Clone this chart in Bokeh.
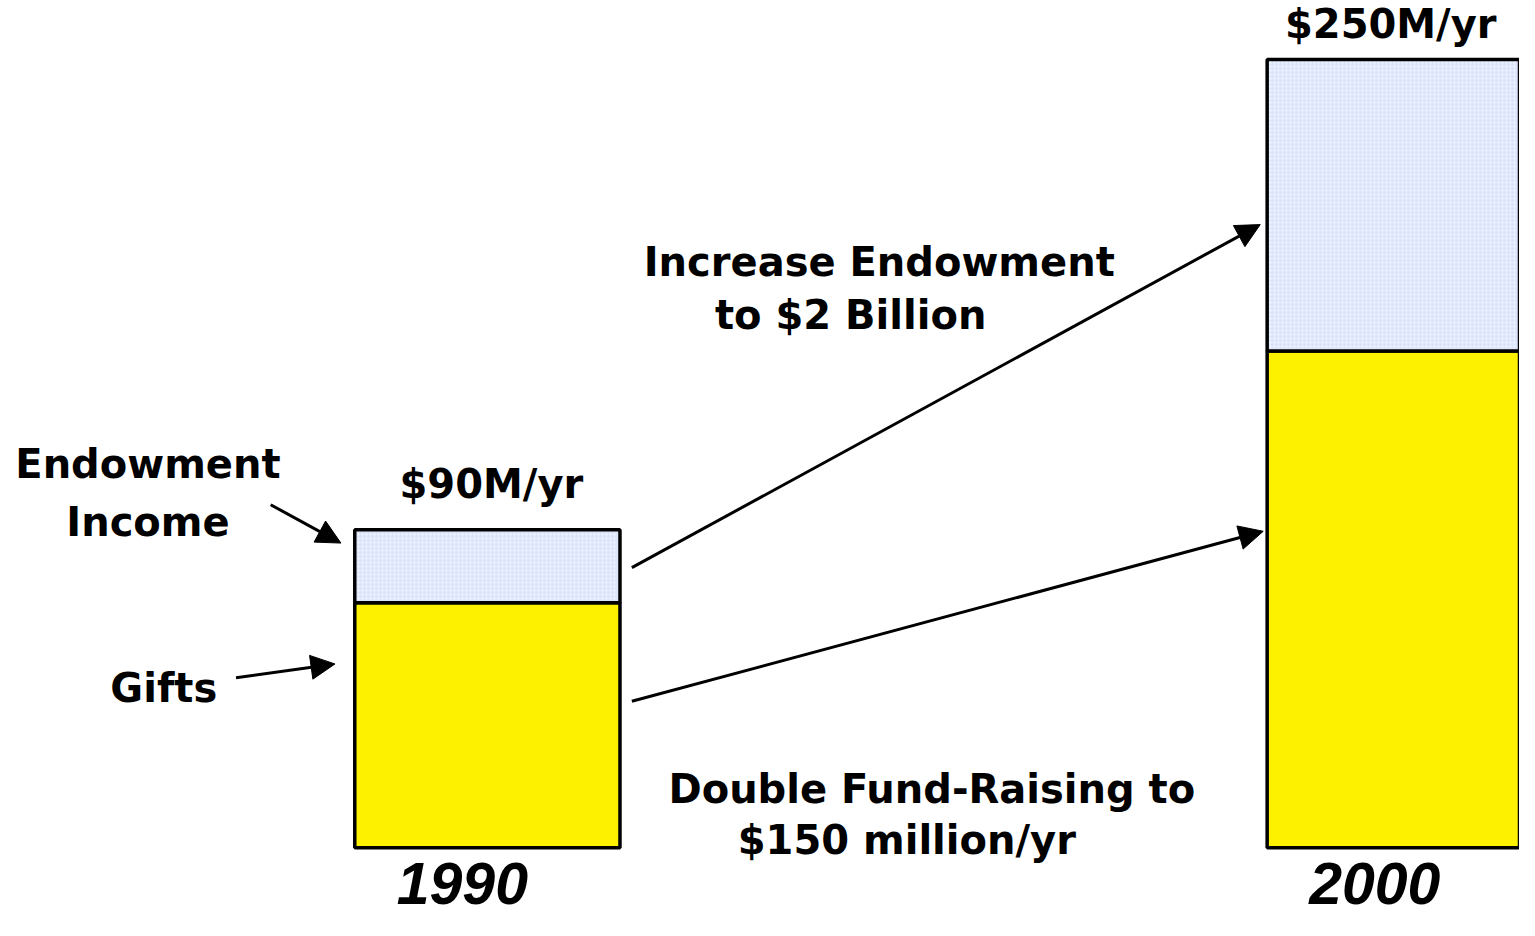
from bokeh.plotting import figure
from bokeh.models import Range1d, Label, Arrow, NormalHead
from bokeh.embed import file_html
from bokeh.resources import INLINE

# ---- data ----
years = [1990, 2000]
gifts = [74, 150]            # $M/yr (bar heights)
endowment = [22, 88]         # $M/yr endowment income
total_labels = ["$90M/yr", "$250M/yr"]
year_labels = ["1990", "2000"]

# ---- layout helpers (reference pixel -> data coordinates) ----
PX_PER_YEAR = 92.2
X_REF_PX = 492
PX_PER_M = 3.37
Y_BASE_PX = 862
REF_W, REF_H = 1535, 936


def dx(px):
    return 1990 + (px - X_REF_PX) / PX_PER_YEAR


def dy(py):
    return (Y_BASE_PX - py) / PX_PER_M


W, H = 1519, 920
p = figure(width=W, height=H,
           x_range=Range1d(dx(0), dx(REF_W)),
           y_range=Range1d(dy(REF_H), dy(0)),
           output_backend="svg", toolbar_location=None,
           x_axis_location=None, y_axis_location=None, min_border=0)
p.grid.visible = False
p.outline_line_color = None
p.background_fill_color = "white"
p.border_fill_color = "white"

BAR_W = 268 / PX_PER_YEAR
YELLOW = "#FDF100"
BLUE = "#DCE5FB"

tops = [g + e for g, e in zip(gifts, endowment)]
p.vbar(x=years, width=BAR_W, bottom=0, top=gifts,
       fill_color=YELLOW, line_color="black", line_width=3.5)
p.vbar(x=years, width=BAR_W, bottom=gifts, top=tops,
       fill_color=BLUE, line_color="black", line_width=3.5,
       hatch_pattern="dot", hatch_color="white", hatch_scale=4,
       hatch_weight=1.2, hatch_alpha=0.8)

FONT = "DejaVu Sans"
BASE_SHIFT = 0.39  # baseline correction (fraction of font size)


def label(x, y, text, align="left", size=40, font=FONT, style="bold",
          x_offset=0, y_offset=0):
    p.add_layout(Label(x=x, y=y, text=text, text_align=align,
                       text_baseline="alphabetic", text_font=font,
                       text_font_size=f"{size}px", text_font_style=style,
                       text_color="black", x_offset=x_offset,
                       y_offset=y_offset + BASE_SHIFT * size))


# totals above bars
total_dx = [4, -9]
total_dy = [30, 20]
for yr, t, lab, ox, oy in zip(years, tops, total_labels, total_dx, total_dy):
    label(yr, t, lab, align="center", x_offset=ox, y_offset=oy)

# year labels
for yr, lab in zip(years, year_labels):
    label(yr, dy(922), lab, align="center", size=59,
          font="Liberation Sans", style="bold italic", x_offset=-25)

# annotations
label(dx(149), dy(487), "Endowment", align="center")
label(dx(149), dy(546), "Income", align="center")
label(dx(165), dy(715), "Gifts", align="center")
label(dx(650), dy(282), "Increase Endowment")
label(dx(722), dy(336), "to $2 Billion")
label(dx(675), dy(818), "Double Fund-Raising to")
label(dx(745), dy(870), "$150 million/yr")

arrows = [
    ((273, 513), (344, 552)),
    ((238, 689), (338, 675)),
    ((638, 577), (1273, 228)),
    ((638, 713), (1276, 540)),
]
for (sx, sy), (ex, ey) in arrows:
    p.add_layout(Arrow(end=NormalHead(size=24, fill_color="black",
                                      line_color="black"),
                       x_start=dx(sx), y_start=dy(sy),
                       x_end=dx(ex), y_end=dy(ey),
                       line_color="black", line_width=3))

open("out.html", "w").write(file_html(p, INLINE))
